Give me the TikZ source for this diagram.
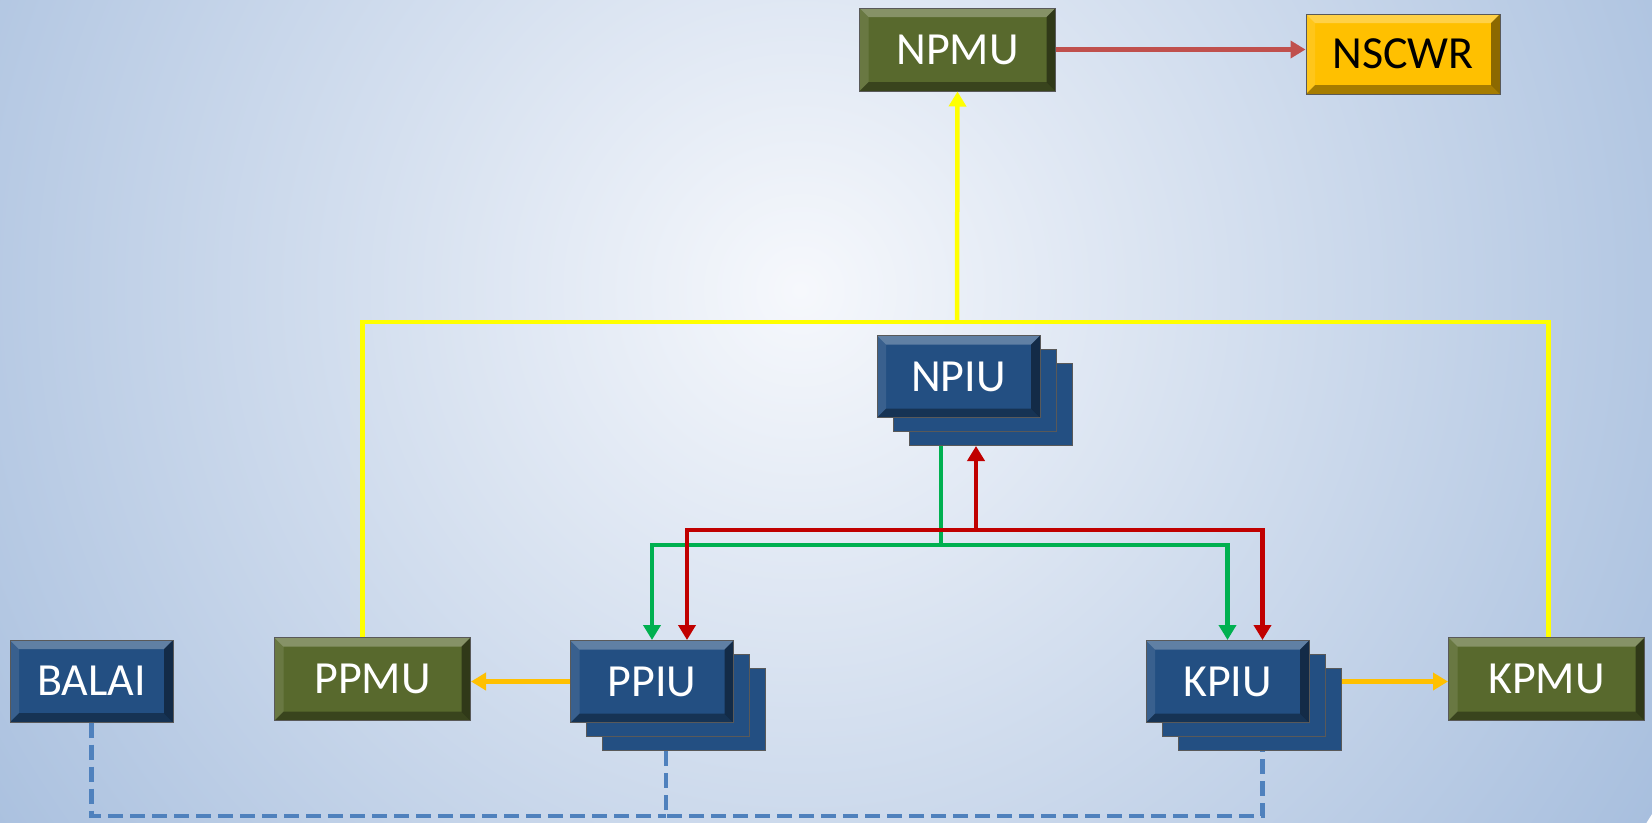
\documentclass[tikz,border=0pt]{standalone}
\usepackage{fontspec}
\setmainfont{Carlito}
\usetikzlibrary{arrows.meta,shadows}

\definecolor{bgout}{RGB}{168,191,222}
\definecolor{bgin}{RGB}{246,248,252}
\definecolor{boxblue}{RGB}{35,79,130}
\definecolor{boxgreen}{RGB}{88,105,45}
\definecolor{boxgold}{RGB}{255,192,0}
\definecolor{linered}{RGB}{192,80,77}
\definecolor{darkred}{RGB}{192,0,0}
\definecolor{linegreen}{RGB}{0,176,80}
\definecolor{lineyellow}{RGB}{255,255,0}
\definecolor{lineorange}{RGB}{255,192,0}
\definecolor{dashblue}{RGB}{79,129,189}

\tikzset{
  bevel/.style={path picture={
    \fill[white,opacity=.28] (path picture bounding box.north west) -- (path picture bounding box.north east)
      -- ([shift={(-9pt,-9pt)}]path picture bounding box.north east) -- ([shift={(9pt,-9pt)}]path picture bounding box.north west) -- cycle;
    \fill[black,opacity=.35] (path picture bounding box.south west) -- (path picture bounding box.south east)
      -- ([shift={(-9pt,9pt)}]path picture bounding box.south east) -- ([shift={(9pt,9pt)}]path picture bounding box.south west) -- cycle;
    \fill[black,opacity=.45] (path picture bounding box.north east) -- (path picture bounding box.south east)
      -- ([shift={(-9pt,9pt)}]path picture bounding box.south east) -- ([shift={(-9pt,-9pt)}]path picture bounding box.north east) -- cycle;
    \fill[white,opacity=.1] (path picture bounding box.north west) -- (path picture bounding box.south west)
      -- ([shift={(9pt,9pt)}]path picture bounding box.south west) -- ([shift={(9pt,-9pt)}]path picture bounding box.north west) -- cycle;
  }},
  unit/.style={draw=gray!70!black, line width=1pt, inner sep=0pt, bevel, text=white,
    font=\fontsize{46}{50}\selectfont},
  bluebox/.style={unit, fill=boxblue, minimum width=163pt, minimum height=82pt},
  greenbox/.style={unit, fill=boxgreen, minimum width=196pt, minimum height=83pt},
  goldbox/.style={unit, fill=boxgold, text=black, minimum width=194pt, minimum height=80pt},
  stack/.style={double copy shadow={shadow xshift=16pt, shadow yshift=-14pt, fill=boxblue, draw=gray!70!black}},
  link/.style={line width=4.5pt},
  tip/.style={-{Triangle[length=15pt,width=17pt]}},
  dashlink/.style={draw=dashblue, line width=4.5pt, dash pattern=on 15pt off 7pt}
}

\begin{document}
\begin{tikzpicture}[x=1pt,y=-1pt]
\useasboundingbox (0,0) rectangle (1652,822);
\begin{scope}
\clip (0,0) rectangle (1652,822);
\shade[inner color=bgin, outer color=bgout] (800,290) circle (1000);
\end{scope}

% management units
\node[greenbox] (NPMU) at (957.5,49.5) {NPMU};
\node[goldbox] (NSCWR) at (1403,54) {NSCWR};
\node[greenbox] (PPMU) at (372.5,679) {PPMU};
\node[greenbox] (KPMU) at (1546.5,679) {KPMU};

% implementation units
\node[bluebox] (BALAI) at (91.5,681) {BALAI};
\node[bluebox,stack] (NPIU) at (958.5,376.5) {NPIU};
\node[bluebox,stack] (PPIU) at (652,681.5) {PPIU};
\node[bluebox,stack] (KPIU) at (1227.5,681.5) {KPIU};

\coordinate (ybus) at (957,322);
\coordinate (gbus) at (941,545);
\coordinate (rbus) at (976,530);
\coordinate (dbus) at (666,816);

% reporting lines
\draw[link,linered,tip] (NPMU.east) -- (NPMU.east -| NSCWR.west);
\draw[link,lineyellow] ([xshift=-10pt]PPMU.north) |- (ybus) -| ([xshift=2pt]KPMU.north);
\draw[link,lineyellow,tip] (ybus) -- (NPMU.south);

\draw[link,linegreen] ([xshift=-17.5pt,yshift=-28pt]NPIU.south) -- (gbus);
\draw[link,linegreen,tip] (gbus) -| (PPIU.north);
\draw[link,linegreen,tip] (gbus) -| (KPIU.north);
\draw[link,darkred,tip] (rbus) -- ([xshift=17.5pt,yshift=-28pt]NPIU.south);
\draw[link,darkred,tip] (rbus) -| ([xshift=35pt]PPIU.north);
\draw[link,darkred,tip] (rbus) -| ([xshift=35pt]KPIU.north);

\draw[link,lineorange,tip] (PPIU.west) -- (PPIU.west -| PPMU.east);
\draw[link,lineorange,tip] ([xshift=32pt]KPIU.east) -- (KPIU.east -| KPMU.west);

% coordination
\draw[dashlink] (BALAI.south) |- (dbus);
\draw[dashlink] ([xshift=14pt,yshift=-28pt]PPIU.south) -- (dbus) -| ([xshift=35pt,yshift=-28pt]KPIU.south);
\end{tikzpicture}
\end{document}
